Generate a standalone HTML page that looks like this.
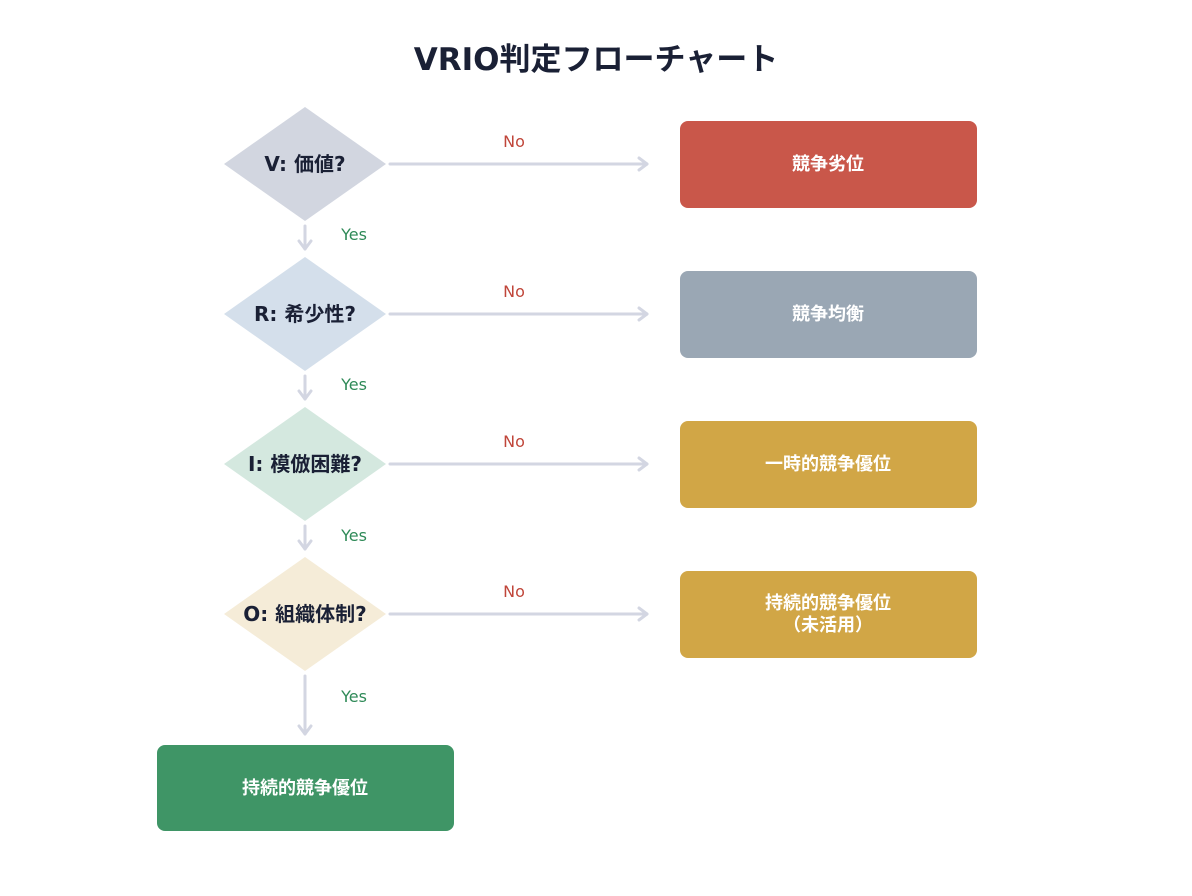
<!DOCTYPE html>
<html><head><meta charset="utf-8"><style>
html,body{margin:0;padding:0;background:#fff;}
svg{display:block;}
text{font-family:"DejaVu Sans","Noto Sans CJK JP",sans-serif;}
</style></head><body>
<svg width="1192" height="896" viewBox="0 0 1192 896" xmlns="http://www.w3.org/2000/svg">
<text x="596" y="70" text-anchor="middle" font-size="31" font-weight="bold" fill="#1a2035">VRIO判定フローチャート</text>
<g stroke="#d3d6e2" stroke-width="3" fill="none" stroke-linecap="round" stroke-linejoin="round">
  <line x1="390" y1="164" x2="647" y2="164"/><polyline points="639,158 647,164 639,170"/>
  <line x1="390" y1="314" x2="647" y2="314"/><polyline points="639,308 647,314 639,320"/>
  <line x1="390" y1="464" x2="647" y2="464"/><polyline points="639,458 647,464 639,470"/>
  <line x1="390" y1="614" x2="647" y2="614"/><polyline points="639,608 647,614 639,620"/>
  <line x1="305" y1="226" x2="305" y2="249"/><polyline points="299,241 305,249 311,241"/>
  <line x1="305" y1="376" x2="305" y2="399"/><polyline points="299,391 305,399 311,391"/>
  <line x1="305" y1="526" x2="305" y2="549"/><polyline points="299,541 305,549 311,541"/>
  <line x1="305" y1="676" x2="305" y2="734"/><polyline points="299,726 305,734 311,726"/>
</g>
<polygon points="305,107 386,164 305,221 224,164" fill="#d2d6e0"/>
<polygon points="305,257 386,314 305,371 224,314" fill="#d4dfeb"/>
<polygon points="305,407 386,464 305,521 224,464" fill="#d4e8df"/>
<polygon points="305,557 386,614 305,671 224,614" fill="#f5ecd8"/>
<g font-size="20" font-weight="bold" fill="#1a2035" text-anchor="middle">
<text x="305" y="171">V: 価値?</text>
<text x="305" y="321">R: 希少性?</text>
<text x="305" y="471">I: 模倣困難?</text>
<text x="305" y="621">O: 組織体制?</text>
</g>
<g font-size="16" fill="#c0463a" text-anchor="middle">
<text x="514" y="147">No</text><text x="514" y="297">No</text><text x="514" y="447">No</text><text x="514" y="597">No</text>
</g>
<g font-size="16" fill="#2f8a58" text-anchor="middle">
<text x="354" y="240">Yes</text><text x="354" y="390">Yes</text><text x="354" y="541">Yes</text><text x="354" y="702">Yes</text>
</g>
<rect x="680" y="121" width="297" height="87" rx="8" fill="#c9574a"/>
<rect x="680" y="271" width="297" height="87" rx="8" fill="#9aa7b4"/>
<rect x="680" y="421" width="297" height="87" rx="8" fill="#d1a646"/>
<rect x="680" y="571" width="297" height="87" rx="8" fill="#d1a646"/>
<rect x="157" y="745" width="297" height="86" rx="8" fill="#3f9566"/>
<g font-size="18" font-weight="bold" fill="#fff" text-anchor="middle">
<text x="828" y="170">競争劣位</text>
<text x="828" y="320">競争均衡</text>
<text x="828" y="470">一時的競争優位</text>
<text x="828" y="609">持続的競争優位</text>
<text x="828" y="631">（未活用）</text>
<text x="305" y="794">持続的競争優位</text>
</g>
</svg>
</body></html>
